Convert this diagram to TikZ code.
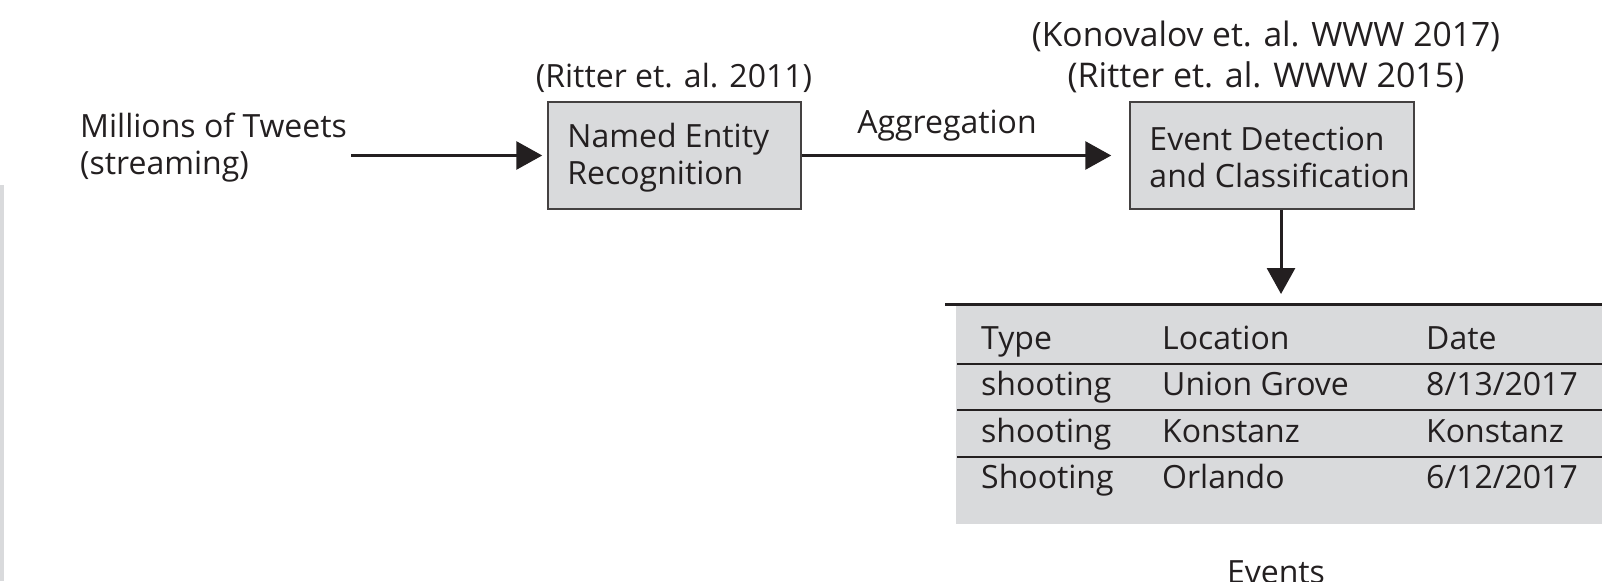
\documentclass[tikz,border=0pt]{standalone}
\usepackage{fontspec}
\setmainfont{Open Sans}
\usetikzlibrary{arrows.meta,calc}
\definecolor{ink}{HTML}{231F20}
\definecolor{boxgray}{HTML}{D9DADC}
\begin{document}
\begin{tikzpicture}[x=1pt,y=-1pt,
  font=\fontsize{32}{37}\selectfont, text=ink,
  arr/.style={draw=ink, line width=3pt, -{Triangle[length=26pt,width=28pt]}},
  procbox/.style={draw=ink!85, line width=1.5pt, fill=boxgray,
    inner sep=0pt, minimum height=107pt},
  boxtext/.style={anchor=west, align=left, inner sep=0pt},
  lbl/.style={inner sep=0pt, anchor=base},
  cell/.style={inner sep=0pt, anchor=base west}]
\useasboundingbox (0,0) rectangle (1602,581);
% left edge bar
\fill[boxgray] (0,185) rectangle (4,581);
% processing boxes
\node[procbox, minimum width=253pt] (ner) at (674.5,155.5) {};
\node[boxtext] (nert) at ([xshift=20pt,yshift=-2pt]ner.west) {Named Entity\\Recognition};
\node[procbox, minimum width=284pt] (ev) at (1272,155.5) {};
\node[boxtext] (evt) at ([xshift=20pt,yshift=-2pt]ev.west) {Event Detection\\and Classification};
% input text
\node[boxtext] (tw) at (80,147.5) {Millions of Tweets\\(streaming)};
% references
\node[lbl] (r1) at (674,87) {(Ritter et. al. 2011)};
\node[lbl, font=\fontsize{33.6}{37}\selectfont] (r2) at (1266,46) {(Konovalov et. al. WWW 2017)};
\node[lbl, font=\fontsize{34}{37}\selectfont] (r3) at (1266,87) {(Ritter et. al. WWW 2015)};
\node[lbl] (agg) at (947,133) {Aggregation};
% arrows
\draw[arr, shorten <=4pt, shorten >=5pt] (tw.east |- ner.west) -- (ner.west);
\draw[arr, shorten >=18pt] (ner.east) -- (ev.west);
\coordinate (dt) at (1281,294);
\draw[arr] (ev.south -| dt) -- (dt);
% table
\fill[boxgray] (956,306) rectangle (1602,524);
\draw[ink, line width=3pt] (945,304) -- (1602,304);
\foreach \yy in {364,410,457} \draw[ink, line width=1.5pt] (957,\yy) -- (1602,\yy);
\node[cell] (h1) at (981,349) {Type};
\node[cell] (h2) at (1162,349) {Location};
\node[cell] (h3) at (1426,349) {Date};
\node[cell] (a1) at (981,395.5) {shooting};
\node[cell] (a2) at (1162,395.5) {Union Grove};
\node[cell] (a3) at (1426,395.5) {8/13/2017};
\node[cell] (b1) at (981,442) {shooting};
\node[cell] (b2) at (1162,442) {Konstanz};
\node[cell] (b3) at (1426,442) {Konstanz};
\node[cell] (c1) at (981,488.5) {Shooting};
\node[cell] (c2) at (1162,488.5) {Orlando};
\node[cell] (c3) at (1426,488.5) {6/12/2017};
\node[lbl] (events) at (1276,583) {Events};
\end{tikzpicture}
\end{document}
